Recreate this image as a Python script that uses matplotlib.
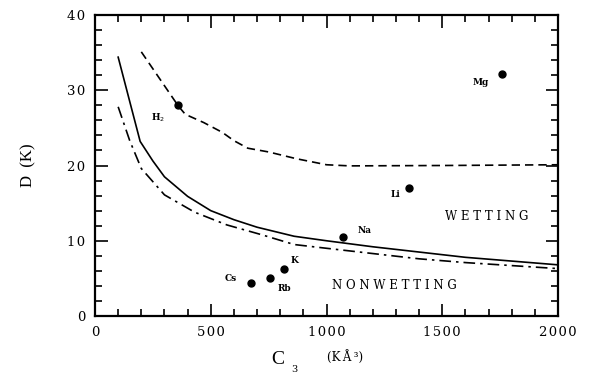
"""Wetting / nonwetting phase diagram, D versus C3."""
import matplotlib

matplotlib.use("Agg")
import matplotlib.pyplot as plt  # noqa: E402
from matplotlib.ticker import FuncFormatter, MultipleLocator  # noqa: E402

# boundary curves (C3 in K A^3, D in K)
solid_c3 = [100, 150, 195, 250, 300, 400, 500, 600, 700, 860, 1000, 1200, 1400, 1600, 1800, 2000]
solid_d = [34.4, 28.5, 23.2, 20.6, 18.5, 15.9, 14.0, 12.8, 11.8, 10.6, 10.0, 9.2, 8.5, 7.8, 7.3, 6.8]

dashdot_c3 = [100, 150, 200, 300, 430, 570, 720, 860, 1000, 1200, 1400, 1600, 1800, 2000]
dashdot_d = [27.8, 23.3, 19.6, 16.1, 13.8, 12.1, 10.8, 9.5, 9.0, 8.3, 7.6, 7.1, 6.7, 6.3]

dashed_c3 = [200, 280, 360, 390, 470, 550, 600, 660, 750, 870, 1000, 1100, 1500, 2000]
dashed_d = [35.1, 31.5, 27.9, 26.8, 25.7, 24.4, 23.3, 22.3, 21.8, 20.9, 20.1, 19.95, 20.0, 20.1]

# measured substrates
species = ["H$_2$", "Mg", "Li", "Na", "K", "Rb", "Cs"]
species_c3 = [360, 1760, 1355, 1070, 815, 755, 675]
species_d = [28.0, 32.2, 17.0, 10.5, 6.2, 5.0, 4.4]
label_c3 = [272, 1668, 1300, 1164, 862, 819, 586]
label_d = [26.4, 31.0, 16.1, 11.4, 7.4, 3.6, 5.0]

SERIF = "DejaVu Serif"

fig = plt.figure(figsize=(5.92, 3.75), dpi=100)
ax = fig.add_axes([0.1605, 0.1573, 0.7821, 0.8027])

ax.plot(solid_c3, solid_d, color="black", lw=1.2, ls="-")
ax.plot(dashdot_c3, dashdot_d, color="black", lw=1.2, ls=(0, (7, 3, 1.5, 3)))
ax.plot(dashed_c3, dashed_d, color="black", lw=1.2, ls=(0, (5, 3)))
ax.plot(species_c3, species_d, "o", color="black", ms=5)

for name, x, y in zip(species, label_c3, label_d):
    ax.text(x, y, name, ha="center", va="center", fontsize=6.5,
            family=SERIF, fontweight="semibold")

ax.text(1690, 13.2, "W E T T I N G", ha="center", va="center",
        fontsize=8.5, family=SERIF)
ax.text(1293, 4.0, "N O N W E T T I N G", ha="center", va="center",
        fontsize=8.5, family=SERIF)

ax.set_xlim(0, 2000)
ax.set_ylim(0, 40)
ax.xaxis.set_major_locator(MultipleLocator(500))
ax.xaxis.set_minor_locator(MultipleLocator(100))
ax.yaxis.set_major_locator(MultipleLocator(10))
ax.yaxis.set_minor_locator(MultipleLocator(2))

spaced = FuncFormatter(lambda v, pos: "\u200a".join(f"{v:.0f}"))
ax.xaxis.set_major_formatter(spaced)
ax.yaxis.set_major_formatter(spaced)

ax.tick_params(which="both", direction="in", top=True, right=True,
               width=1.2, labelsize=9.5)
ax.tick_params(which="major", length=9, pad=7)
ax.tick_params(which="minor", length=5)
for lab in ax.get_xticklabels() + ax.get_yticklabels():
    lab.set_family(SERIF)
for sp in ax.spines.values():
    sp.set_linewidth(1.6)

ax.set_ylabel("D  (K)", family="Liberation Serif", fontsize=12, labelpad=22)

fig.text(0.4696, 0.04, "C", ha="center", va="center",
         family="Liberation Serif", fontsize=14)
fig.text(0.4966, 0.004, "3", ha="center", va="bottom",
         family=SERIF, fontsize=7)
fig.text(0.5828, 0.048, "(K\u2009Å\u2009³)", ha="center", va="center",
         family=SERIF, fontsize=8.5)

fig.savefig("out.png", dpi=100)
